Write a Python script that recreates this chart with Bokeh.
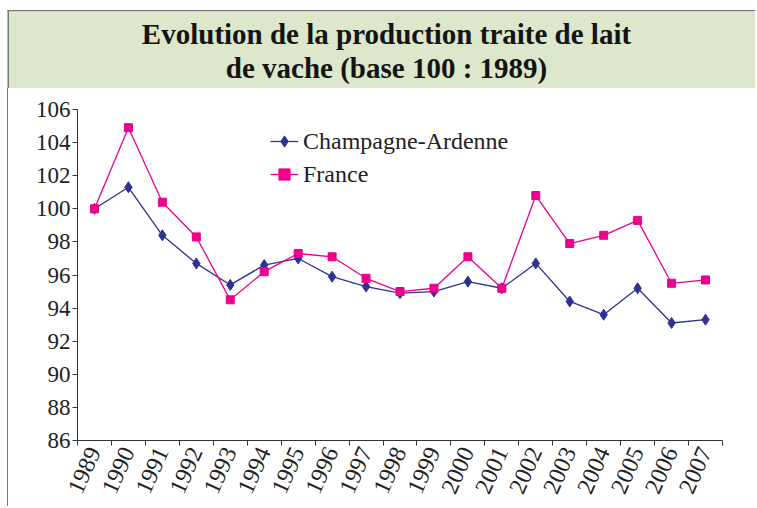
from bokeh.plotting import figure
from bokeh.layouts import column, row
from bokeh.models import (FactorRange, Range1d, LinearAxis, FixedTicker, Legend, LegendItem, Div)
from bokeh.core.properties import value
from bokeh.embed import file_html
from bokeh.resources import INLINE

years = ["1989", "1990", "1991", "1992", "1993", "1994", "1995", "1996", "1997", "1998",
         "1999", "2000", "2001", "2002", "2003", "2004", "2005", "2006", "2007"]
champagne = [100.0, 101.3, 98.4, 96.7, 95.4, 96.6, 97.0, 95.9, 95.3, 94.9,
             95.0, 95.6, 95.2, 96.7, 94.4, 93.6, 95.2, 93.1, 93.3]
france = [100.0, 104.9, 100.4, 98.3, 94.5, 96.2, 97.3, 97.1, 95.8, 95.0,
          95.2, 97.1, 95.2, 100.8, 97.9, 98.4, 99.3, 95.5, 95.7]
y_ticks = [86, 88, 90, 92, 94, 96, 98, 100, 102, 104, 106]
title_lines = ["Evolution de la production traite de lait", "de vache (base 100 : 1989)"]
series_names = ["Champagne-Ardenne", "France"]

FONT = "Liberation Serif"
BLUE = "#2e3192"
PINK = "#ec008c"
GREEN = "#dce7cc"
GREY = "#767676"

W = 755
TITLE_H = 88
MAIN_H = 418
STRIP_W = 9


def bare(width, height, xr, yr, bg="white"):
    f = figure(width=width, height=height, x_range=xr, y_range=yr,
               output_backend="svg", toolbar_location=None,
               x_axis_location=None, y_axis_location=None, min_border=0)
    f.xgrid.visible = False
    f.ygrid.visible = False
    f.outline_line_color = None
    f.background_fill_color = bg
    f.border_fill_color = bg
    return f


# ---- title band (pixel coordinates, y downward) ----
tp = bare(W, TITLE_H, Range1d(0, W), Range1d(TITLE_H, 0))
tp.quad(left=[7], right=[W], top=[9.5], bottom=[11], fill_color=GREY, line_color=None)
tp.quad(left=[7], right=[8.5], top=[9.5], bottom=[TITLE_H], fill_color=GREY, line_color=None)
tp.quad(left=[8.5], right=[W], top=[11], bottom=[87.5], fill_color=GREEN, line_color=None)
tp.text(x=[386, 386], y=[33, 67], text=title_lines,
        text_font=value(FONT), text_font_style="bold", text_font_size="29px",
        text_color="#141414", text_align="center", text_baseline="middle")

# ---- left frame line ----
strip = Div(text="", width=STRIP_W, height=MAIN_H, margin=0,
            styles={"background": "linear-gradient(to right, white 0px, white 7px, "
                                   + GREY + " 7px, " + GREY + " 8.5px, white 8.5px)"})

# ---- main chart ----
p = figure(width=W - STRIP_W, height=MAIN_H,
           x_range=FactorRange(*years, range_padding=0),
           y_range=Range1d(y_ticks[0], y_ticks[-1]),
           output_backend="svg", toolbar_location=None,
           min_border_left=68, min_border_right=33, min_border_top=21, min_border_bottom=66,
           x_axis_location=None)
p.outline_line_color = None
p.xgrid.visible = False
p.ygrid.visible = False
p.background_fill_color = "white"
p.border_fill_color = "white"

ya = p.yaxis[0]
ya.ticker = FixedTicker(ticks=y_ticks)
ya.major_tick_out = 5
ya.major_tick_in = 0
ya.minor_tick_line_color = None
ya.axis_line_color = "#333333"
ya.major_tick_line_color = "#333333"
ya.major_label_text_font = FONT
ya.major_label_text_font_size = "23px"
ya.major_label_text_color = "#222222"
ya.major_label_standoff = 2

# x axis: labels at category centres (synthetic coords i+0.5), ticks at category boundaries
centres = [i + 0.5 for i in range(len(years))]
xa = LinearAxis(ticker=FixedTicker(ticks=centres,
                                   minor_ticks=list(range(len(years) + 1))),
                major_label_overrides={c: y for c, y in zip(centres, years)})
xa.major_tick_line_color = None
xa.minor_tick_out = 5
xa.minor_tick_in = 0
xa.minor_tick_line_color = "#333333"
xa.axis_line_color = "#333333"
xa.major_label_text_font = FONT
xa.major_label_text_font_size = "24px"
xa.major_label_text_color = "#222222"
xa.major_label_orientation = 1.15
xa.major_label_standoff = 2
p.add_layout(xa, "below")

l1 = p.line(years, champagne, line_color=BLUE, line_width=1.3)
s1 = p.scatter(years, champagne, marker="diamond", size=11, fill_color=BLUE, line_color=BLUE)
l2 = p.line(years, france, line_color=PINK, line_width=1.3)
s2 = p.scatter(years, france, marker="square", size=8, fill_color=PINK, line_color=PINK)

legend = Legend(items=[LegendItem(label=series_names[0], renderers=[l1, s1]),
                       LegendItem(label=series_names[1], renderers=[l2, s2])],
                location=(193, 251))
legend.border_line_color = None
legend.background_fill_alpha = 0
legend.label_text_font = FONT
legend.label_text_font_size = "24px"
legend.label_text_color = "#222222"
legend.glyph_width = 28
legend.glyph_height = 30
legend.label_height = 30
legend.spacing = 3
legend.padding = 2
legend.margin = 0
legend.label_standoff = 5
p.add_layout(legend)

layout = column(tp, row(strip, p))
open("out.html", "w").write(file_html(layout, INLINE))
